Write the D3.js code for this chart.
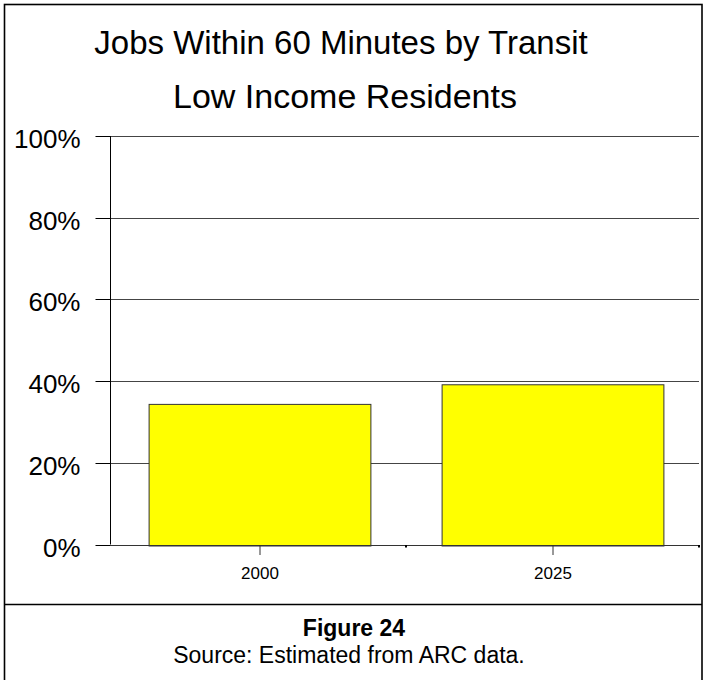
<!DOCTYPE html>
<html>
<head>
<meta charset="utf-8">
<script src="https://cdn.jsdelivr.net/npm/d3@7"></script>
<style>
  html, body { margin: 0; padding: 0; background: #fff; }
  svg { display: block; font-family: "Liberation Sans", Arial, sans-serif; }
</style>
</head>
<body>
<svg id="chart" width="707" height="680"></svg>
<script>
// Share of jobs reachable within 60 minutes by transit, low income residents
const categories = ["2000", "2025"];
const values = [0.343, 0.391];
const yTicks = [0, 0.2, 0.4, 0.6, 0.8, 1.0];
const titleLines = ["Jobs Within 60 Minutes by Transit", "Low Income Residents"];
const figureLabel = "Figure 24";
const sourceNote = "Source: Estimated from ARC data.";

const svg = d3.select("#chart");
const W = 707, H = 680;

// Layout of the plot area
const axisX = 110, plotRight = 699;
const plotTop = 136, plotBottom = 544.5;

const x = d3.scaleBand().domain(categories).range([113, plotRight]).padding(0);
const y = d3.scaleLinear().domain([0, 1]).range([plotBottom, plotTop]);
const barFrac = 0.757;

// Outer frame
svg.append("rect")
  .attr("x", 4.5).attr("y", 4.5)
  .attr("width", 697.5).attr("height", H + 10)
  .attr("fill", "#fff").attr("stroke", "#000").attr("stroke-width", 1.6);

// Separator above the caption
svg.append("line")
  .attr("x1", 4.5).attr("x2", 702)
  .attr("y1", 604.5).attr("y2", 604.5)
  .attr("stroke", "#000").attr("stroke-width", 1.6);

// Title
svg.selectAll("text.title")
  .data(titleLines)
  .join("text")
  .attr("class", "title")
  .attr("x", (d, i) => i === 0 ? 341 : 345)
  .attr("y", (d, i) => i === 0 ? 54 : 108)
  .attr("text-anchor", "middle")
  .attr("font-size", (d, i) => i === 0 ? 33 : 34)
  .attr("fill", "#000")
  .text(d => d);

// Horizontal gridlines
svg.append("g")
  .selectAll("line")
  .data(yTicks.filter(t => t > 0))
  .join("line")
  .attr("x1", axisX).attr("x2", plotRight)
  .attr("y1", d => Math.round(y(d)) + 0.5)
  .attr("y2", d => Math.round(y(d)) + 0.5)
  .attr("stroke", "#444").attr("stroke-width", 1);

// Y axis with tick marks pointing left
const yAxis = d3.axisLeft(y)
  .tickValues(yTicks)
  .tickFormat(d3.format(".0%"))
  .tickSize(15)
  .tickPadding(15);

const yg = svg.append("g")
  .attr("transform", `translate(${axisX + 0.5},0)`)
  .call(yAxis);
yg.select(".domain").attr("stroke", "#000").attr("d", `M0,${plotTop}V${plotBottom}`);
yg.selectAll(".tick line").attr("stroke", "#000");
yg.selectAll(".tick").attr("transform", d => `translate(0,${Math.round(y(d)) + 0.5})`);
yg.selectAll(".tick text")
  .attr("font-size", 26)
  .attr("font-family", "Liberation Sans, Arial, sans-serif")
  .attr("fill", "#000")
  .attr("dy", "0.43em");

// Bars
svg.append("g")
  .selectAll("rect")
  .data(categories.map((c, i) => ({ c, v: values[i] })))
  .join("rect")
  .attr("x", d => x(d.c) + x.bandwidth() * (1 - barFrac) / 2 + 0.5)
  .attr("width", x.bandwidth() * barFrac)
  .attr("y", d => y(d.v))
  .attr("height", d => y(0) + 1.5 - y(d.v))
  .attr("fill", "#ffff00")
  .attr("stroke", "#333").attr("stroke-width", 1);

// X axis line
svg.append("line")
  .attr("x1", axisX).attr("x2", plotRight + 1)
  .attr("y1", Math.round(y(0)) + 0.5).attr("y2", Math.round(y(0)) + 0.5)
  .attr("stroke", "#333").attr("stroke-width", 1);

// Category ticks and labels
const xAxis = d3.axisBottom(x).tickSize(10).tickPadding(12);
const xg = svg.append("g")
  .attr("transform", `translate(0.5,${Math.round(y(0))})`)
  .call(xAxis);
xg.select(".domain").remove();
xg.selectAll(".tick line").attr("stroke", "#333");
xg.selectAll(".tick text")
  .attr("font-size", 17)
  .attr("font-family", "Liberation Sans, Arial, sans-serif")
  .attr("fill", "#000");

// Small marks at the category boundaries
svg.append("g")
  .selectAll("rect")
  .data(categories)
  .join("rect")
  .attr("x", d => x(d) + x.bandwidth() - 1)
  .attr("y", Math.round(y(0)))
  .attr("width", 2).attr("height", 2.5)
  .attr("fill", "#000");

// Caption
svg.append("text")
  .attr("x", 354).attr("y", 636)
  .attr("text-anchor", "middle")
  .attr("font-size", 23).attr("font-weight", "bold")
  .attr("fill", "#000")
  .text(figureLabel);

svg.append("text")
  .attr("x", 349).attr("y", 663)
  .attr("text-anchor", "middle")
  .attr("font-size", 23)
  .attr("fill", "#000")
  .text(sourceNote);
</script>
</body>
</html>
